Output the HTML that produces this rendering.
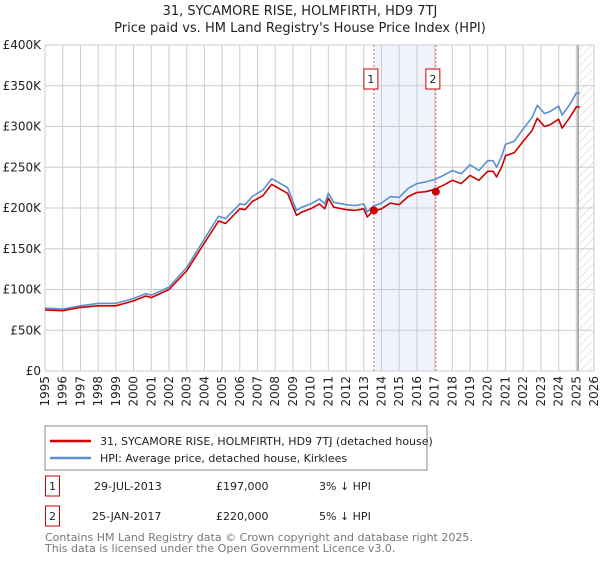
<!DOCTYPE html>
<html><head><meta charset="utf-8"><style>
body{margin:0;background:#fff;font-family:"DejaVu Sans","Liberation Sans",sans-serif;}
svg text{font-family:"DejaVu Sans","Liberation Sans",sans-serif;}
</style></head><body>
<svg id="c" width="600" height="560" xmlns="http://www.w3.org/2000/svg">
<defs><pattern id="hatch" width="6" height="6" patternUnits="userSpaceOnUse" patternTransform="rotate(45)"><line x1="0" y1="0" x2="0" y2="6" stroke="#ccc" stroke-width="1"/></pattern></defs>
<text x="300" y="15" font-size="13" text-anchor="middle" fill="#222">31, SYCAMORE RISE, HOLMFIRTH, HD9 7TJ</text>
<text x="300" y="32" font-size="13" text-anchor="middle" fill="#222">Price paid vs. HM Land Registry's House Price Index (HPI)</text>
<g id="grid"></g><g id="series"></g><g id="axes"></g>
<rect x="45" y="426" width="382" height="44" fill="#fff" stroke="#888"/>
<line x1="50" y1="441" x2="91" y2="441" stroke="#cc0000" stroke-width="2.5"/>
<text x="100" y="445" font-size="11" fill="#222">31, SYCAMORE RISE, HOLMFIRTH, HD9 7TJ (detached house)</text>
<line x1="50" y1="458" x2="91" y2="458" stroke="#5b8fd0" stroke-width="2.5"/>
<text x="100" y="462" font-size="11" fill="#222">HPI: Average price, detached house, Kirklees</text>
<g>
<rect x="45.5" y="476" width="14" height="20" fill="#fff" stroke="#cc0000"/>
<text x="52.5" y="490" font-size="11" text-anchor="middle" fill="#222">1</text>
<text x="94" y="490" font-size="11" fill="#222">29-JUL-2013</text>
<text x="216" y="490" font-size="11" fill="#222">£197,000</text>
<text x="319" y="490" font-size="11" fill="#222">3% ↓ HPI</text></g>
<g>
<rect x="45.5" y="506" width="14" height="20" fill="#fff" stroke="#cc0000"/>
<text x="52.5" y="520" font-size="11" text-anchor="middle" fill="#222">2</text>
<text x="92" y="520" font-size="11" fill="#222">25-JAN-2017</text>
<text x="216" y="520" font-size="11" fill="#222">£220,000</text>
<text x="319" y="520" font-size="11" fill="#222">5% ↓ HPI</text></g>
<text x="45" y="541" font-size="11" fill="#777">Contains HM Land Registry data © Crown copyright and database right 2025.</text>
<text x="45" y="552" font-size="11" fill="#777">This data is licensed under the Open Government Licence v3.0.</text>
</svg>
<script>
const yTicks=[0,50,100,150,200,250,300,350,400];
const yTickLabels=["£0","£50K","£100K","£150K","£200K","£250K","£300K","£350K","£400K"];
const xYears=[1995,1996,1997,1998,1999,2000,2001,2002,2003,2004,2005,2006,2007,2008,2009,2010,2011,2012,2013,2014,2015,2016,2017,2018,2019,2020,2021,2022,2023,2024,2025,2026];
const hpiT=[1995,1996,1997,1998,1999,2000,2000.7,2001,2002,2003,2004,2004.8,2005.2,2006,2006.3,2006.7,2007.3,2007.8,2008.3,2008.7,2009.2,2009.5,2010,2010.5,2010.8,2011,2011.3,2012,2012.5,2013,2013.2,2013.5,2014,2014.5,2015,2015.5,2016,2016.5,2017,2017.5,2018,2018.5,2019,2019.5,2020,2020.3,2020.5,2020.8,2021,2021.5,2022,2022.5,2022.8,2023.2,2023.5,2024,2024.2,2024.6,2025,2025.2];
const hpiV=[77,76,80,83,83,89,95,93,103,127,162,190,187,205,204,214,222,236,230,225,197,201,205,211,205,218,207,204,203,205,195,202,206,214,213,224,230,232,235,240,246,242,253,246,258,258,250,264,278,282,297,311,326,316,318,325,314,326,341,341];
const redT=hpiT;
const redV=[75,74,78,80,80,86,92,90,100,123,157,184,181,199,198,208,215,229,223,218,191,195,199,205,199,212,201,198,197,199,189,196,199,206,204,214,219,220,223,228,234,230,240,234,245,245,238,251,264,268,282,295,310,300,302,309,298,310,324,324];
const saleT=[2013.57,2017.07];
const saleV=[197,220];
const saleLabels=["1","2"];
const X0=45,X1=594,Y0=371,Y1=45;
const xs=t=>X0+(t-1995)/(2026-1995)*(X1-X0);
const ys=v=>Y0-v/400*(Y0-Y1);
const NS="http://www.w3.org/2000/svg";
function mk(tag,attrs,parent){const e=document.createElementNS(NS,tag);for(const k in attrs)e.setAttribute(k,attrs[k]);parent.appendChild(e);return e;}
const grid=document.getElementById('grid'),ser=document.getElementById('series'),ax=document.getElementById('axes');
// shaded sale range
let sh=mk('rect',{x:xs(saleT[0]),y:Y1,width:xs(saleT[1])-xs(saleT[0]),height:Y0-Y1,fill:'#eef3fc'},grid);


let ht=mk('rect',{x:xs(2025.1),y:Y1,width:X1-xs(2025.1),height:Y0-Y1,fill:'url(#hatch)'},grid);


yTicks.forEach((v,i)=>{
 let l=mk('line',{x1:X0,x2:X1,y1:ys(v),y2:ys(v),stroke:'#ccc','stroke-width':1},grid);
 
 
 let t=mk('text',{x:X0-4,y:ys(v)+4,'font-size':12,'text-anchor':'end',fill:'#222'},ax);t.textContent=yTickLabels[i];
 
 
});
xYears.forEach(yr=>{
 let l=mk('line',{x1:xs(yr),x2:xs(yr),y1:Y1,y2:Y0,stroke:'#ccc','stroke-width':1},grid);
 
 
 let t=mk('text',{x:0,y:0,'font-size':12,'text-anchor':'end',fill:'#222',transform:`translate(${xs(yr)+4},${Y0+5}) rotate(-90)`},ax);t.textContent=yr;
 
 
});
let cut=mk('line',{x1:xs(2025.1),x2:xs(2025.1),y1:Y1,y2:Y0,stroke:'#999','stroke-width':1.5},grid);


saleT.forEach((t,i)=>{
 let l=mk('line',{x1:xs(t),x2:xs(t),y1:Y1,y2:Y0,stroke:'#e06060','stroke-width':1,'stroke-dasharray':'2,2'},grid);
 
 
 let b=mk('rect',{x:xs(t)-10,y:69,width:14,height:20,fill:'#fff',stroke:'#cc0000'},ax);
 
 
 let tx=mk('text',{x:xs(t)-3,y:83,'font-size':11,'text-anchor':'middle',fill:'#222'},ax);tx.textContent=saleLabels[i];
 
 
});
function path(T,V,color,name){
 let d=T.map((t,i)=>(i?'L':'M')+xs(t).toFixed(1)+','+ys(V[i]).toFixed(1)).join('');
 let p=mk('path',{d:d,fill:'none',stroke:color,'stroke-width':1.6,'stroke-linejoin':'round'},ser);
 
 
}
path(hpiT,hpiV,'#5b8fd0','hpi-line');
path(redT,redV,'#cc0000','property-price-line');
saleT.forEach((t,i)=>{
 let c=mk('circle',{cx:xs(t),cy:ys(saleV[i]),r:4,fill:'#cc0000'},ser);
 
 
});
</script>
</body></html>
